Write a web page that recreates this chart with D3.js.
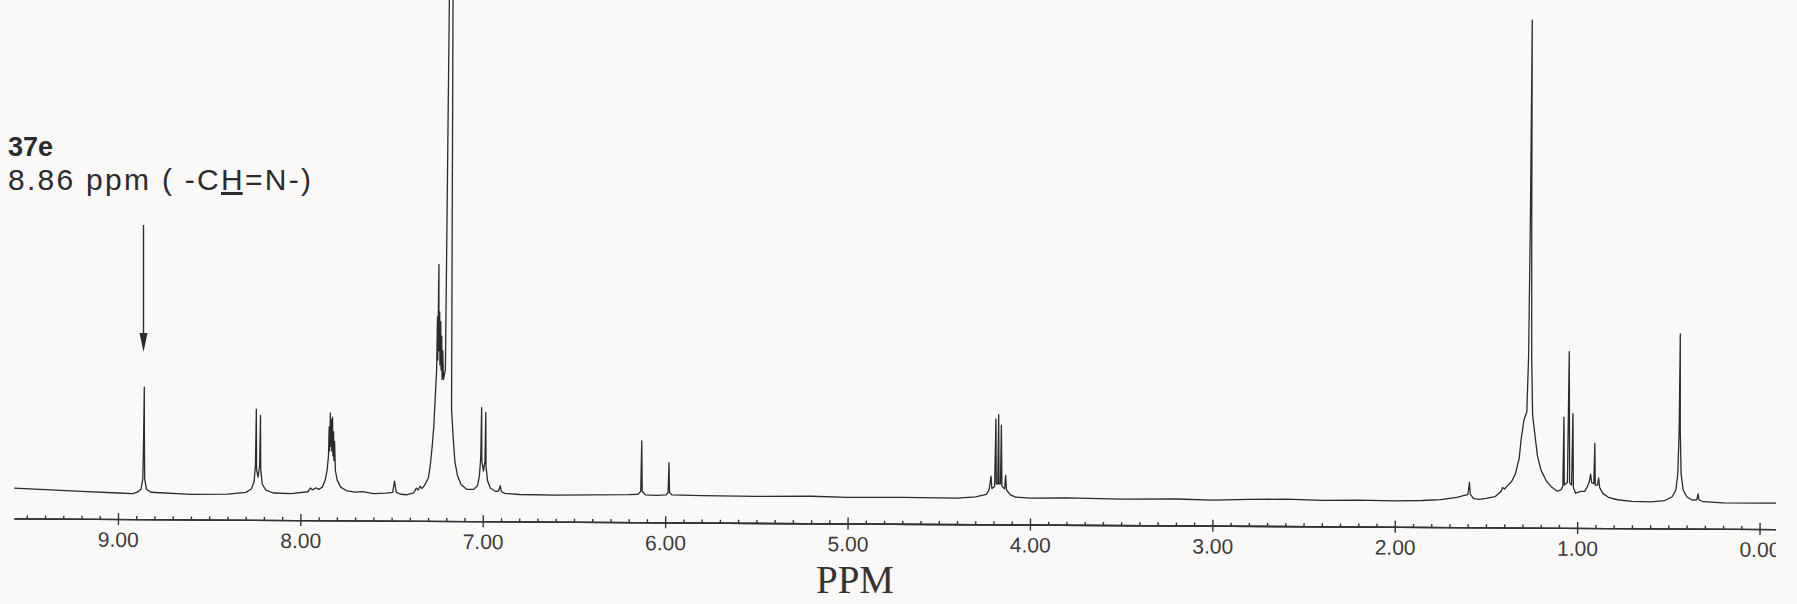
<!DOCTYPE html>
<html>
<head>
<meta charset="utf-8">
<script src="https://cdn.jsdelivr.net/npm/d3@7"></script>
<style>
  html, body { margin: 0; padding: 0; background: #fbf8f8; }
  svg { display: block; }
  .tick text { font-family: "Liberation Sans", Arial, sans-serif; }
</style>
</head>
<body>
<div id="chart"></div>
<script>
// scanned 1H NMR trace
// intensity: 0 = baseline, 100 = tip of the 1.26 ppm line

const svgWidth = 1797;
const svgHeight = 604;

// [ppm, intensity] points, low field part
const aromaticTrace = [
    [9.57, 0.9], [9.40, 0.6], [9.20, 0.3], [9.00, 0.0], [8.92, -0.1],
    [8.895, 0.2], [8.875, 0.8], [8.865, 3], [8.862, 12], [8.860, 22], [8.858, 12], [8.855, 3], [8.845, 0.8], [8.82, 0.2],
    [8.60, -0.2], [8.40, -0.1], [8.30, 0.3],
    [8.27, 1.0], [8.255, 2.5], [8.248, 6], [8.245, 17.6], [8.242, 5], [8.233, 3.5], [8.225, 6], [8.222, 16.3], [8.219, 5], [8.21, 2], [8.19, 0.8], [8.15, 0.2],
    [8.05, 0.1], [7.96, 0.5], [7.945, 1.3], [7.935, 0.9], [7.915, 1.3], [7.90, 1.0], [7.88, 1.5], [7.865, 3],
    [7.855, 5], [7.848, 8], [7.845, 14], [7.842, 9], [7.839, 16.9], [7.836, 10], [7.833, 15.5], [7.830, 9],
    [7.827, 16], [7.824, 8], [7.821, 13], [7.818, 7], [7.815, 11], [7.81, 5], [7.80, 3], [7.78, 1.5], [7.75, 0.8], [7.70, 0.5],
    [7.66, 0.6], [7.60, 0.2], [7.53, 0.3], [7.495, 0.5], [7.485, 2.8], [7.475, 0.5], [7.45, 0.1], [7.42, 0.0],
    [7.38, 0.4], [7.365, 1.4], [7.355, 1.0], [7.345, 1.8], [7.335, 1.3], [7.32, 2.0], [7.30, 3.5], [7.29, 6], [7.28, 10],
    [7.272, 14], [7.265, 20], [7.258, 26], [7.255, 37], [7.252, 28], [7.249, 47.9], [7.246, 30], [7.243, 38], [7.240, 27],
    [7.237, 36], [7.234, 26], [7.231, 33], [7.228, 24], [7.225, 30], [7.22, 24], [7.21, 26],
    [7.2005, 103], [7.1805, 103], [7.175, 18], [7.165, 12], [7.155, 7], [7.14, 4], [7.12, 2.2], [7.09, 1.2], [7.05, 1.2],
    [7.03, 2], [7.02, 4], [7.013, 8], [7.010, 18.2], [7.007, 7], [6.998, 5], [6.99, 7], [6.987, 17.2], [6.984, 6],
    [6.975, 3], [6.96, 1.5], [6.93, 0.8], [6.915, 0.9], [6.905, 2.0], [6.90, 0.8], [6.88, 0.4]
];

// middle part: olefinic singlets and the quartet
const midTrace = [
    [6.80, 0.2], [6.60, 0.1], [6.40, 0.2], [6.20, 0.3],
    [6.15, 0.4], [6.135, 1.0], [6.131, 11.5], [6.127, 1.0], [6.11, 0.3],
    [6.05, 0.2], [5.995, 0.3], [5.985, 0.8], [5.981, 7.0], [5.977, 0.8], [5.965, 0.3],
    [5.80, 0.2], [5.50, 0.1], [5.20, 0.2], [5.00, 0.0], [4.70, 0.1], [4.40, 0.0], [4.30, 0.3],
    [4.24, 0.8], [4.225, 1.8], [4.215, 4.6], [4.21, 2.0], [4.195, 2.5], [4.19, 16.5], [4.186, 3], [4.178, 3],
    [4.175, 17.4], [4.171, 3], [4.163, 3], [4.16, 15.2], [4.155, 2.5], [4.14, 2], [4.135, 4.8], [4.13, 1.8], [4.11, 0.8], [4.08, 0.3],
    [4.00, 0.1], [3.80, 0.2], [3.50, 0.0], [3.20, 0.1], [3.00, -0.1], [2.80, 0.1], [2.60, 0.2], [2.40, 0.0],
    [2.20, 0.1], [2.00, 0.0], [1.85, 0.1], [1.75, 0.3]
];

// high field part
const aliphaticTrace = [
    [1.66, 0.8], [1.62, 1.2], [1.60, 1.4], [1.592, 3.9], [1.587, 1.5], [1.57, 0.6], [1.54, 0.4], [1.50, 0.6],
    [1.45, 1.0], [1.42, 2.0], [1.41, 2.9], [1.40, 2.6], [1.38, 3.4], [1.36, 4.2], [1.34, 5.8], [1.32, 9], [1.31, 13],
    [1.295, 17], [1.28, 18.6], [1.272, 30], [1.2665, 60], [1.263, 100], [1.2595, 60], [1.255, 30], [1.248, 18],
    [1.235, 14], [1.22, 9.5], [1.20, 6.5], [1.17, 4.3], [1.14, 3.0], [1.11, 2.2], [1.09, 2.5],
    [1.08, 3.2], [1.076, 17.6], [1.072, 3.5], [1.055, 4], [1.049, 31.2], [1.043, 4], [1.032, 3.5], [1.027, 18.3], [1.022, 3],
    [1.01, 1.8], [0.98, 2.2], [0.96, 2.2], [0.945, 3.2], [0.935, 4.2], [0.928, 5.8], [0.922, 4.0], [0.91, 3.8],
    [0.906, 12.2], [0.902, 3.5], [0.89, 3.5], [0.884, 5.0], [0.878, 3.0], [0.86, 1.8], [0.83, 1.0], [0.78, 0.5],
    [0.70, 0.2], [0.60, 0.1], [0.52, 0.4], [0.48, 1.2], [0.46, 2.6], [0.45, 6], [0.444, 15], [0.441, 35],
    [0.438, 15], [0.432, 6], [0.42, 2.6], [0.40, 1.2], [0.37, 0.5], [0.345, 0.6], [0.338, 1.8], [0.333, 0.6],
    [0.31, 0.2], [0.20, 0.0], [0.00, 0.0], [-0.09, 0.0]
];

const majorTicks = [9, 8, 7, 6, 5, 4, 3, 2, 1, 0];
const minorTicks = d3.range(95, -1, -1).map(d => d / 10).filter(d => d % 1 !== 0);
const ppmDomain = [9.57, -0.09];

const compoundLabel = "37e";
const peakPpm = 8.86;

const svg = d3.select("#chart")
    .append("svg")
    .attr("width", svgWidth)
    .attr("height", svgHeight);

svg.append("rect")
    .attr("width", svgWidth)
    .attr("height", svgHeight)
    .attr("fill", "#fbf8f8");

// the scanned page stops just before the right edge
svg.append("clipPath")
    .attr("id", "scan-clip")
    .append("rect")
    .attr("x", 0)
    .attr("y", -20)
    .attr("width", 1776)
    .attr("height", svgHeight + 40);

// the page was scanned a little crooked, so the whole plot is turned a bit
const plot = svg.append("g")
    .attr("clip-path", "url(#scan-clip)")
    .append("g")
    .attr("transform", "rotate(0.35, 118, 519)");

const x = d3.scaleLinear()
    .domain(ppmDomain)
    .range([14, 1776]);

const y = d3.scaleLinear()
    .domain([0, 100])
    .range([493, 11.5]);

const axisY = 519;

// major ticks with labels (crossing the line)
plot.append("g")
    .attr("class", "axis axis-x")
    .attr("transform", `translate(0, ${axisY})`)
    .call(d3.axisBottom(x)
        .tickValues(majorTicks)
        .tickSizeInner(6)
        .tickSizeOuter(0)
        .tickPadding(7)
        .tickFormat(d3.format(".2f")));

plot.append("g")
    .attr("class", "axis axis-top")
    .attr("transform", `translate(0, ${axisY})`)
    .call(d3.axisTop(x)
        .tickValues(majorTicks)
        .tickSizeInner(6)
        .tickSizeOuter(0)
        .tickFormat(""));

plot.append("g")
    .attr("class", "axis axis-minor")
    .attr("transform", `translate(0, ${axisY})`)
    .call(d3.axisTop(x)
        .tickValues(minorTicks)
        .tickSizeInner(3)
        .tickSizeOuter(0)
        .tickFormat(""));

plot.selectAll(".axis path, .axis line")
    .attr("stroke", "#333")
    .attr("stroke-width", 1.4);

plot.selectAll(".axis-x text")
    .attr("font-size", "21px")
    .attr("fill", "#3a3a3a");

// the spectrum itself
const spectrum = aromaticTrace.concat(midTrace, aliphaticTrace);

const line = d3.line()
    .x(d => x(d[0]))
    .y(d => y(d[1]));

plot.append("path")
    .datum(spectrum)
    .attr("d", line)
    .attr("fill", "none")
    .attr("stroke", "#2b2b2b")
    .attr("stroke-width", 1.3)
    .attr("stroke-linejoin", "round");

// axis title
svg.append("text")
    .text("PPM")
    .attr("x", 855)
    .attr("y", 593)
    .attr("text-anchor", "middle")
    .attr("font-family", "'Liberation Serif', 'Times New Roman', serif")
    .attr("font-size", "39px")
    .attr("fill", "#333");

// annotation for the imine proton
svg.append("text")
    .text(compoundLabel)
    .attr("x", 8)
    .attr("y", 156)
    .attr("font-family", "'Liberation Sans', Arial, sans-serif")
    .attr("font-weight", "bold")
    .attr("font-size", "27px")
    .attr("fill", "#2b2b2b");

const note = svg.append("text")
    .attr("x", 8)
    .attr("y", 190)
    .attr("font-family", "'Liberation Sans', Arial, sans-serif")
    .attr("font-size", "30px")
    .attr("fill", "#2b2b2b")
    .attr("textLength", 303)
    .attr("lengthAdjust", "spacing");
note.append("tspan").text("8.86 ppm ( -C");
note.append("tspan").text("H").attr("text-decoration", "underline");
note.append("tspan").text("=N-)");

const arrowX = x(peakPpm);
svg.append("line")
    .attr("x1", arrowX)
    .attr("x2", arrowX)
    .attr("y1", 225)
    .attr("y2", 340)
    .attr("stroke", "#2b2b2b")
    .attr("stroke-width", 1.4);

svg.append("path")
    .attr("d", `M${arrowX - 4},333 L${arrowX},352 L${arrowX + 4},333 Z`)
    .attr("fill", "#2b2b2b");
</script>
</body>
</html>
